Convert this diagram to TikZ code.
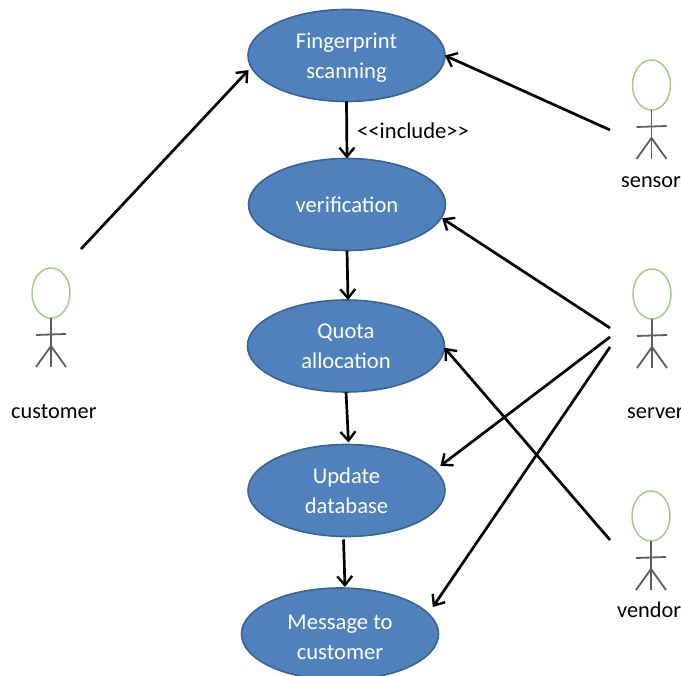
\documentclass[tikz,border=0pt]{standalone}
\usepackage{fontspec}
\setmainfont{Carlito}
\usetikzlibrary{arrows.meta,shapes.geometric}
\definecolor{ucfill}{HTML}{4F81BD}
\definecolor{ucline}{HTML}{3A6390}
\definecolor{headline}{HTML}{A9C98C}
\definecolor{stick}{HTML}{5E5E5E}
\tikzset{
  usecase/.style={ellipse,draw=ucline,line width=1.6pt,fill=ucfill,text=white,
    minimum width=197pt,minimum height=92pt,inner sep=0pt,outer sep=0pt,align=center,
    font=\fontsize{22.6}{30}\selectfont},
  head/.style={ellipse,draw=headline,line width=1.5pt,fill=white,
    minimum width=38pt,minimum height=50pt,inner sep=0pt,outer sep=0pt},
  body/.style={draw=stick,line width=1.8pt},
  actorname/.style={font=\fontsize{22.3}{24}\selectfont,text=black,inner sep=0pt,anchor=base west},
  link/.style={draw=black,line width=2.7pt,-{Straight Barb[length=9pt,width=15pt,line width=2.4pt]}},
  note/.style={font=\fontsize{22.6}{24}\selectfont,text=black,inner sep=0pt,anchor=base west}
}
\begin{document}
\begin{tikzpicture}[x=1pt,y=-1pt]
\path[use as bounding box,clip] (0,0) rectangle (681,676);
\fill[white] (0,0) rectangle (681,676);
% use cases
\node[usecase] (scan) at (346.5,55.5) {\rule{0pt}{20.5pt}Fingerprint\\scanning};
\node[usecase] (verify) at (347,204.5) {verification};
\node[usecase] (quota) at (346,346) {Quota\\allocation};
\node[usecase] (update) at (346.5,490.5) {Update\\database};
\node[usecase] (message) at (340,634) {\rule{0pt}{20.5pt}Message to\\customer};
% actors
\node[head] (hcust) at (51,293) {};
\node[head] (hsens) at (651.5,85) {};
\node[head] (hserv) at (652,294) {};
\node[head] (hvend) at (651,516) {};
\foreach \h/\x/\y in {hcust/51/293,hsens/651.5/85,hserv/652/294,hvend/651/516}{
  \coordinate (\h hip) at (\x,\y+53);
  \draw[body] (\h.south) -- (\h hip);
  \draw[body] (\x-15,\y+42) -- (\x+15,\y+41);
  \draw[body] (\x-15,\y+74) -- (\h hip) -- (\x+15,\y+74);
  \draw[body] (\h hip) -- (\x,\y+74);
}
\node[actorname] (lcust) at (11,418.5) {customer};
\node[actorname] (lsens) at (621,187.5) {sensor};
\node[actorname] (lserv) at (627,418.5) {server};
\node[actorname] (lvend) at (617,617.5) {vendor};
\node[note] (incl) at (357,138.5) {<\kern0pt<include>\kern0pt>};
% free ends
\coordinate (fcust) at (81,249);
\coordinate (fsens) at (610,130);
\coordinate (fserva) at (610,328);
\coordinate (fservb) at (610,337);
\coordinate (fservc) at (610,347);
\coordinate (fvend) at (610,540);
% connectors
\draw[link,shorten >=4pt] (fcust) -- (scan.187);
\draw[link] (fsens) -- (scan.east);
\draw[link,shorten >=1pt] (fserva) -- (verify.-8);
\draw[link,shorten >=7pt] (fservb) -- (update.13.7);
\draw[link,shorten >=8pt] (fservc) -- (message.13.9);
\draw[link] (fvend) -- (quota.-1);
\draw[link] (scan.south) -- (verify.north);
\draw[link] (verify.south) -- ([xshift=2pt]quota.north);
\draw[link] (quota.south) -- ([xshift=2pt,yshift=2pt]update.north);
\draw[link] ([xshift=-3pt,yshift=-3pt]update.south) -- ([xshift=5pt,yshift=1pt]message.north);
\end{tikzpicture}
\end{document}
